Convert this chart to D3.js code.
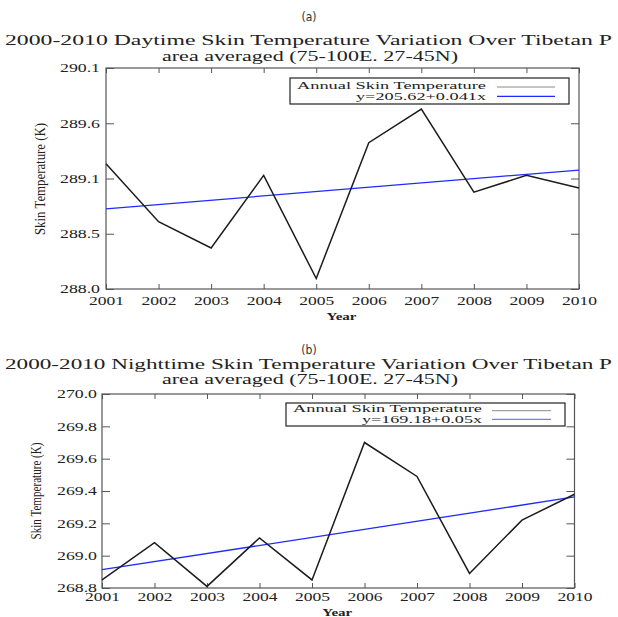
<!DOCTYPE html>
<html>
<head>
<meta charset="utf-8">
<script src="https://cdn.jsdelivr.net/npm/d3@7"></script>
<style>
  html, body { margin: 0; padding: 0; background: #fff; }
  svg { display: block; }
</style>
</head>
<body>
<svg id="chart" width="618" height="617"></svg>
<script>
// Years shown on the x axis
const years = [2001, 2002, 2003, 2004, 2005, 2006, 2007, 2008, 2009, 2010];

// Annual mean skin temperature (K), daytime and nighttime
const dayTemps   = [289.19, 288.64, 288.39, 289.08, 288.10, 289.39, 289.71, 288.92, 289.08, 288.96];
const nightTemps = [268.85, 269.08, 268.81, 269.11, 268.85, 269.70, 269.49, 268.89, 269.22, 269.38];

// Linear trend slopes (K per year) as stated in the legends
const daySlope = 0.041;
const nightSlope = 0.05;

// Legend texts
const dayTrendLabel = "y=205.62+0.041x";
const nightTrendLabel = "y=169.18+0.05x";
const seriesLabel = "Annual Skin Temperature";

// Y tick labels (ticks are evenly spaced over each axis domain)
const dayYTickLabels = ["288.0", "288.5", "289.1", "289.6", "290.1"];
const nightYTickLabels = ["268.8", "269.0", "269.2", "269.4", "269.6", "269.8", "270.0"];

// Titles
const dayTitle = ["2000-2010 Daytime Skin Temperature Variation Over Tibetan P", "area averaged (75-100E. 27-45N)"];
const nightTitle = ["2000-2010 Nighttime Skin Temperature Variation Over Tibetan P", "area averaged (75-100E. 27-45N)"];

const SERIF = "'Liberation Serif', 'Times New Roman', Times, serif";
const svg = d3.select("#chart");

function txt(sel, size) {
  return sel.attr("font-family", SERIF).style("font-family", SERIF)
    .style("font-size", size + "px").attr("fill", "#222");
}

function drawPanel(o) {
  const g = svg.append("g");
  const x = d3.scaleLinear().domain([years[0], years[years.length - 1]]).range([o.x0, o.x1]);
  const y = d3.scaleLinear().domain(o.yDomain).range([o.yb, o.yt]);
  const n = o.yLabels.length;
  const yTickVals = d3.range(n).map(i => o.yDomain[0] + (o.yDomain[1] - o.yDomain[0]) * i / (n - 1));

  // panel tag and title
  g.append("text").attr("x", 309).attr("y", o.tagY).attr("text-anchor", "middle")
    .attr("font-family", "'DejaVu Sans Condensed', 'DejaVu Sans', sans-serif")
    .style("font-size", "12px").attr("fill", "#333").text(o.tag);
  txt(g.append("text"), 14).attr("x", 5).attr("y", o.titleY1)
    .attr("textLength", 607).attr("lengthAdjust", "spacingAndGlyphs").text(o.title[0]);
  txt(g.append("text"), 14).attr("x", 310).attr("y", o.titleY2).attr("text-anchor", "middle")
    .attr("textLength", 296).attr("lengthAdjust", "spacingAndGlyphs").text(o.title[1]);

  // axes with inward ticks on all four sides
  const axStyle = sel => {
    sel.select(".domain").remove();
    sel.selectAll(".tick line").attr("stroke", "#555").attr("stroke-width", 1);
  };
  g.append("g").attr("transform", `translate(0,${o.yb})`)
    .call(d3.axisBottom(x).tickValues(years).tickSize(-5).tickPadding(o.xPad).tickFormat(d3.format("d")))
    .call(axStyle)
    .call(s => txt(s.selectAll(".tick text"), 12)
      .attr("textLength", 35).attr("lengthAdjust", "spacingAndGlyphs"));
  g.append("g").attr("transform", `translate(0,${o.yt})`)
    .call(d3.axisTop(x).tickValues(years).tickSize(-5).tickFormat(""))
    .call(axStyle);
  g.append("g").attr("transform", `translate(${o.x0},0)`)
    .call(d3.axisLeft(y).tickValues(yTickVals).tickSize(-8).tickPadding(o.yPad)
      .tickFormat((d, i) => o.yLabels[i]))
    .call(axStyle)
    .call(s => txt(s.selectAll(".tick text"), 12)
      .attr("textLength", 40).attr("lengthAdjust", "spacingAndGlyphs"));
  g.append("g").attr("transform", `translate(${o.x1},0)`)
    .call(d3.axisRight(y).tickValues(yTickVals).tickSize(-8).tickFormat(""))
    .call(axStyle);

  // frame
  g.append("rect").attr("x", o.x0).attr("y", o.yt)
    .attr("width", o.x1 - o.x0).attr("height", o.yb - o.yt)
    .attr("fill", "none").attr("stroke", "#555").attr("stroke-width", 1.2);

  // axis titles
  txt(g.append("text"), 11).attr("x", (o.x0 + o.x1) / 2 - 1).attr("y", o.xTitleY).attr("text-anchor", "middle")
    .attr("textLength", 30).attr("lengthAdjust", "spacingAndGlyphs")
    .style("font-weight", "bold").text("Year");
  txt(g.append("text"), 15)
    .attr("transform", `translate(${o.yTitleX},${o.yTitleY}) rotate(-90)`)
    .attr("text-anchor", "middle")
    .attr("textLength", o.yTitleLen).attr("lengthAdjust", "spacingAndGlyphs")
    .text("Skin Temperature (K)");

  // trend line through the mean with the stated slope
  const meanYear = d3.mean(years);
  const meanT = d3.mean(o.temps);
  const trend = yr => meanT + o.slope * (yr - meanYear);
  g.append("line")
    .attr("x1", x(years[0])).attr("y1", y(trend(years[0])))
    .attr("x2", x(years[years.length - 1])).attr("y2", y(trend(years[years.length - 1])))
    .attr("stroke", "#1f2bff").attr("stroke-width", 1.3);

  // data series
  const line = d3.line().x((d, i) => x(years[i])).y(d => y(d));
  g.append("path").datum(o.temps).attr("d", line)
    .attr("fill", "none").attr("stroke", "#1c1c1c").attr("stroke-width", 1.5)
    .attr("stroke-linejoin", "miter");

  // legend
  const L = o.legend;
  const lg = g.append("g");
  lg.append("rect").attr("x", L.x0).attr("y", L.y0).attr("width", L.x1 - L.x0).attr("height", L.y1 - L.y0)
    .attr("fill", "#fff").attr("stroke", "#222").attr("stroke-width", 1.2);
  txt(lg.append("text"), L.fs).attr("x", L.textRight).attr("y", L.b1).attr("text-anchor", "end")
    .attr("textLength", L.len1).attr("lengthAdjust", "spacingAndGlyphs").text(seriesLabel);
  txt(lg.append("text"), L.fs).attr("x", L.textRight).attr("y", L.b2).attr("text-anchor", "end")
    .attr("textLength", L.len2).attr("lengthAdjust", "spacingAndGlyphs").text(o.trendLabel);
  lg.append("line").attr("x1", L.s0).attr("x2", L.s1).attr("y1", L.l1).attr("y2", L.l1)
    .attr("stroke", "#8a8a8a").attr("stroke-width", 1);
  lg.append("line").attr("x1", L.s0).attr("x2", L.s1).attr("y1", L.l2).attr("y2", L.l2)
    .attr("stroke", L.blue).attr("stroke-width", 1.2);
}

drawPanel({
  tag: "(a)", tagY: 21, title: dayTitle, titleY1: 45, titleY2: 60.5,
  temps: dayTemps, slope: daySlope, trendLabel: dayTrendLabel,
  yDomain: [288.0, 290.1], yLabels: dayYTickLabels,
  x0: 106, x1: 579, yt: 68, yb: 289, yPad: 6, xPad: 7,
  xTitleY: 320, yTitleX: 45, yTitleY: 179, yTitleLen: 112,
  legend: { x0: 290, x1: 569, y0: 78, y1: 104, textRight: 486, b1: 88.5, b2: 100,
            len1: 189, len2: 130, fs: 10.5, s0: 497, s1: 555, l1: 87, l2: 96.3, blue: "#1f2bff" }
});

drawPanel({
  tag: "(b)", tagY: 354, title: nightTitle, titleY1: 369, titleY2: 384,
  temps: nightTemps, slope: nightSlope, trendLabel: nightTrendLabel,
  yDomain: [268.8, 270.0], yLabels: nightYTickLabels,
  x0: 102, x1: 574.5, yt: 394, yb: 588, yPad: 5, xPad: 4,
  xTitleY: 616, yTitleX: 41, yTitleY: 491, yTitleLen: 97,
  legend: { x0: 286, x1: 565, y0: 403, y1: 426, textRight: 482, b1: 411.5, b2: 422.5,
            len1: 189, len2: 120, fs: 10, s0: 492, s1: 551, l1: 410.7, l2: 419.3, blue: "#7b7bff" }
});
</script>
</body>
</html>
